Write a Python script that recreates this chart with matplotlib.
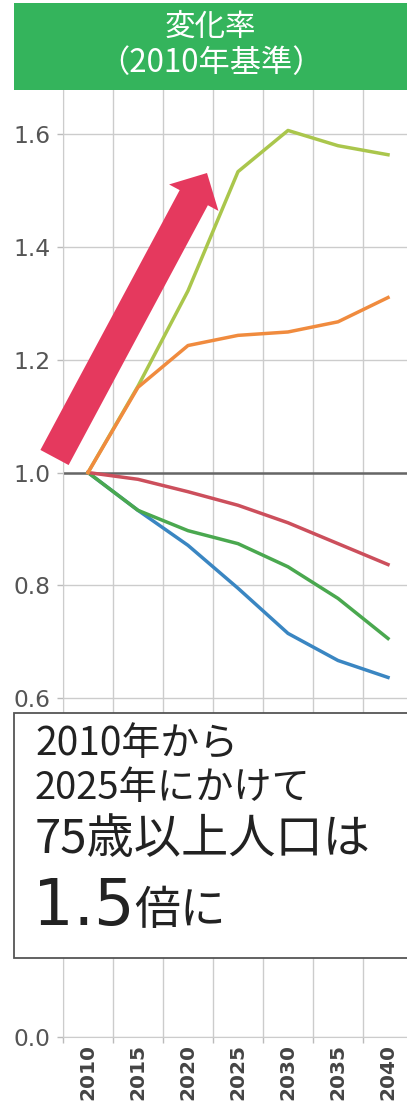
import numpy as np
import matplotlib
matplotlib.use("Agg")
import matplotlib.pyplot as plt
from matplotlib.patches import Rectangle, Polygon

# ---- data ----
years = ["2010", "2015", "2020", "2025", "2030", "2035", "2040"]
age75_plus = [1.0, 1.153, 1.322, 1.533, 1.606, 1.579, 1.563]
age65_plus = [1.0, 1.151, 1.225, 1.243, 1.249, 1.267, 1.310]
total_pop = [1.0, 0.988, 0.966, 0.942, 0.911, 0.874, 0.837]
age15_64 = [1.0, 0.933, 0.897, 0.874, 0.833, 0.777, 0.706]
age0_14 = [1.0, 0.933, 0.871, 0.795, 0.715, 0.667, 0.637]
yticks = [0.0, 0.2, 0.4, 0.6, 0.8, 1.0, 1.2, 1.4, 1.6]

W, H = 407, 1101
JP = ["Noto Sans CJK JP", "DejaVu Sans"]

def fx(x):
    return x / W

def fy(y):
    return 1 - y / H

fig = plt.figure(figsize=(W / 100, H / 100), dpi=100)
fig.patch.set_facecolor("white")

ax = fig.add_axes([fx(63), fy(1037), 350 / W, (1037 - 77.4) / H])
x = np.arange(len(years))
ax.set_xlim(-0.5, len(years) - 0.5)
ax.set_ylim(0, 1.7)

# grid
ax.set_yticks(yticks)
ax.set_yticklabels([f"{v:.1f}" for v in yticks])
ax.set_xticks(x)
ax.set_xticklabels(years, rotation=90, fontweight="bold", fontsize=14.5,
                   color="#444444", family="DejaVu Sans")
ax.set_xticks(np.arange(-0.5, len(years), 1.0), minor=True)
ax.tick_params(axis="x", which="major", length=0, pad=5)
ax.tick_params(axis="x", which="minor", length=4, color="#bbbbbb", width=1)
ax.tick_params(axis="y", length=4, color="#bbbbbb", width=1, pad=5,
               labelsize=16.8, labelcolor="#555555")
for lab in ax.get_yticklabels():
    lab.set_family("DejaVu Sans")
ax.grid(axis="y", which="major", color="#cccccc", lw=1)
ax.grid(axis="x", which="minor", color="#cccccc", lw=1)
ax.set_axisbelow(True)
for s in ["top", "right"]:
    ax.spines[s].set_visible(False)
ax.spines["left"].set_color("#cccccc")
ax.spines["bottom"].set_color("#cccccc")

ax.axhline(1.0, color="#666666", lw=1.8, zorder=1.5)

lw = 2.5
ax.plot(x, age0_14, color="#3a86c2", lw=lw, zorder=3)
ax.plot(x, age15_64, color="#4aa84f", lw=lw, zorder=3)
ax.plot(x, total_pop, color="#cc4f5c", lw=lw, zorder=3)
ax.plot(x, age75_plus, color="#aac64c", lw=lw, zorder=3)
ax.plot(x, age65_plus, color="#f08b3e", lw=lw, zorder=3)

# ---- title box ----
fig.add_artist(Rectangle((fx(14), fy(90)), (420 - 14) / W, 87 / H,
                         transform=fig.transFigure, facecolor="#34b45c",
                         edgecolor="none", zorder=5))
fig.text(fx(210.5), fy(27), "変化率", ha="center", va="center",
         color="white", fontsize=22, family=JP, zorder=6)
fig.text(fx(211), fy(63), "（2010年基準）", ha="center", va="center",
         color="white", fontsize=22.5, family=JP, zorder=6)

# ---- arrow ----
tail = np.array([54.5, 457.5])
tip = np.array([207.0, 173.0])
u = (tip - tail) / np.linalg.norm(tip - tail)
n = np.array([-u[1], u[0]])
hw_shaft, hw_head, head_len = 16.0, 28.0, 28.0
base = tip - head_len * u
pts_px = [tail + hw_shaft * n, base + hw_shaft * n, base + hw_head * n, tip,
          base - hw_head * n, base - hw_shaft * n, tail - hw_shaft * n]
pts = [(fx(p[0]), fy(p[1])) for p in pts_px]
fig.add_artist(Polygon(pts, closed=True, transform=fig.transFigure,
                       facecolor="#e5395e", edgecolor="none", zorder=5))

# ---- annotation box ----
fig.add_artist(Rectangle((fx(14), fy(958)), (420 - 14) / W, (958 - 713) / H,
                         transform=fig.transFigure, facecolor="white",
                         edgecolor="#555555", lw=1.3, zorder=5))
fig.text(fx(35), fy(755), "2010年から", ha="left", va="baseline",
         color="#222222", fontsize=28, family=JP, zorder=6)
fig.text(fx(35), fy(799), "2025年にかけて", ha="left", va="baseline",
         color="#222222", fontsize=27.5, family=JP, zorder=6)
fig.text(fx(35), fy(853), "75歳以上人口は", ha="left", va="baseline",
         color="#222222", fontsize=34, family=JP, zorder=6)
fig.text(fx(33), fy(925), "1.5", ha="left", va="baseline",
         color="#222222", fontsize=46, family=["DejaVu Sans"], zorder=6)
fig.text(fx(134), fy(924), "倍に", ha="left", va="baseline",
         color="#222222", fontsize=33, family=JP, zorder=6)

fig.savefig("out.png", dpi=100)
